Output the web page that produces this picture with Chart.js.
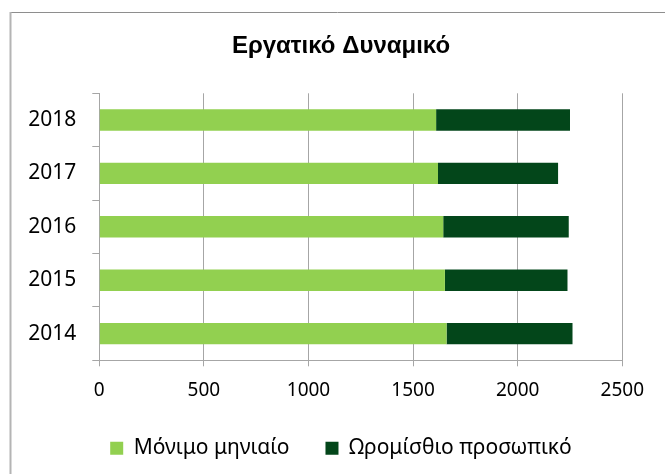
<!DOCTYPE html>
<html>
<head>
<meta charset="utf-8">
<script src="https://cdn.jsdelivr.net/npm/chart.js@4/dist/chart.umd.min.js"></script>
<style>
  html, body { margin: 0; padding: 0; background: #ffffff; }
  #wrap { width: 665px; height: 474px; position: relative; }
</style>
</head>
<body>
<div id="wrap"><canvas id="c" width="665" height="474"></canvas></div>
<script>
const chartTitle = 'Εργατικό Δυναμικό';
const years = ['2018', '2017', '2016', '2015', '2014'];
const permanentMonthly = [1610, 1619, 1644, 1652, 1660];
const hourlyStaff = [640, 574, 600, 586, 602];
const seriesNames = ['Μόνιμο μηνιαίο', 'Ωρομίσθιο προσωπικό'];
const xTicks = [0, 500, 1000, 1500, 2000, 2500];

const frame = {
  id: 'frame',
  beforeDraw(chart) {
    const ctx = chart.ctx;
    ctx.save();
    ctx.fillStyle = '#ffffff';
    ctx.fillRect(0, 0, chart.width, chart.height);
    ctx.strokeStyle = '#8e8e8e';
    ctx.lineWidth = 1;
    ctx.beginPath();
    ctx.moveTo(10, 12.5);
    ctx.lineTo(chart.width, 12.5);
    ctx.stroke();
    ctx.strokeStyle = '#b4b4b4';
    ctx.lineWidth = 2;
    ctx.beginPath();
    ctx.moveTo(10.5, 12);
    ctx.lineTo(10.5, chart.height);
    ctx.stroke();
    ctx.restore();
  }
};

new Chart(document.getElementById('c'), {
  type: 'bar',
  data: {
    labels: years,
    datasets: [
      { label: seriesNames[0], data: permanentMonthly, backgroundColor: '#92D050', borderWidth: 0 },
      { label: seriesNames[1], data: hourlyStaff, backgroundColor: '#03461A', borderWidth: 0 }
    ]
  },
  options: {
    indexAxis: 'y',
    responsive: false,
    animation: false,
    devicePixelRatio: 1,
    layout: { padding: { left: 17, right: 0, top: 0, bottom: 5.3 } },
    datasets: { bar: { barPercentage: 0.4, categoryPercentage: 1 } },
    scales: {
      x: {
        stacked: true,
        min: 0,
        max: 2500,
        afterBuildTicks(scale) { scale.ticks = xTicks.map(v => ({ value: v })); },
        afterFit(scale) { scale.height = 41.4; scale.paddingRight = 42.7; },
        grid: { color: '#a6a6a6', lineWidth: 1, tickLength: 6, drawTicks: true },
        border: { color: '#a6a6a6', width: 1 },
        ticks: {
          color: '#000000', padding: 13, maxRotation: 0,
          font: { family: 'Noto Sans', size: 19 },
          callback: (v) => String(v)
        }
      },
      y: {
        stacked: true,
        afterFit(scale) { scale.width = 82.3; },
        grid: { offset: true, drawOnChartArea: false, color: '#a6a6a6', tickLength: 7 },
        border: { color: '#a6a6a6', width: 1 },
        ticks: { color: '#000000', padding: 16, font: { family: 'Noto Sans', size: 21 } }
      }
    },
    plugins: {
      title: {
        display: true,
        text: chartTitle,
        color: '#000000',
        font: { family: 'Liberation Sans', size: 24, weight: 'bold' },
        padding: { top: 32, bottom: 32.5 }
      },
      legend: {
        display: true,
        position: 'bottom',
        labels: {
          color: '#000000',
          font: { family: 'Noto Sans', size: 21 },
          boxWidth: 13,
          boxHeight: 13,
          padding: 36
        }
      },
      tooltip: { enabled: false }
    }
  },
  plugins: [frame]
});
</script>
</body>
</html>
